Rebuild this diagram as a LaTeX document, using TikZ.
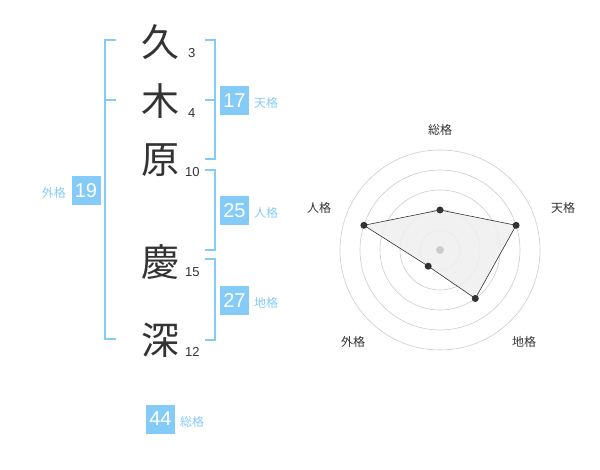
\documentclass[tikz,border=0pt]{standalone}
\usepackage{fontspec}
\setmainfont{Liberation Sans}
\newfontfamily\cjk{Noto Sans CJK JP}
\definecolor{sky}{HTML}{85CBF8}
\definecolor{ink}{HTML}{333333}
\definecolor{ring}{HTML}{CCCCCC}
\definecolor{area}{HTML}{EFEFEF}
\begin{document}
\begin{tikzpicture}[x=1pt,y=-1pt,
  kanji/.style={font=\cjk\fontsize{38}{38}\selectfont, text=ink, inner sep=0},
  strokes/.style={font=\fontsize{13}{13}\selectfont, text=ink, inner sep=0, anchor=west},
  valbox/.style={fill=sky, text=white, minimum width=29, minimum height=29, inner sep=0, font=\fontsize{20}{20}\selectfont},
  vallab/.style={text=sky, font=\cjk\fontsize{12}{12}\selectfont, inner sep=0},
  brk/.style={draw=sky, line width=1.6},
  ringc/.style={draw=ring, line width=0.6},
  axlab/.style={text=ink, font=\cjk\fontsize{12}{12}\selectfont, inner sep=0},
  dot/.style={circle, fill=ink, inner sep=0, minimum size=7}]
\useasboundingbox (0,0) rectangle (600,470);
% characters
\node[kanji] (c1) at (160,42) {久};
\node[kanji] (c2) at (160,101) {木};
\node[kanji] (c3) at (160,160) {原};
\node[kanji] (c4) at (160,262) {慶};
\node[kanji] (c5) at (160,340) {深};
\node[strokes] (n1) at (188,53) {3};
\node[strokes] (n2) at (188,113) {4};
\node[strokes] (n3) at (185,172) {10};
\node[strokes] (n4) at (185,272) {15};
\node[strokes] (n5) at (185,352) {12};
% brackets
\draw[brk] (116,40) -- (105,40) -- (105,339) -- (116,339);
\draw[brk] (105,100) -- (116,100);
\draw[brk] (205,40) -- (215,40) -- (215,159) -- (205,159);
\draw[brk] (205,100) -- (215,100);
\draw[brk] (205,170) -- (215,170) -- (215,250) -- (205,250);
\draw[brk] (205,259) -- (215,259) -- (215,340) -- (205,340);
% value boxes
\node[valbox] (v1) at (234.5,100.5) {17};
\node[vallab, anchor=west] (l1) at (254,103) {天格};
\node[valbox] (v2) at (234.5,210.5) {25};
\node[vallab, anchor=west] (l2) at (254,213) {人格};
\node[valbox] (v3) at (234.5,300.5) {27};
\node[vallab, anchor=west] (l3) at (254,303) {地格};
\node[valbox] (v4) at (86,190.5) {19};
\node[vallab, anchor=east] (l4) at (66,193) {外格};
\node[valbox] (v5) at (160.5,419) {44};
\node[vallab, anchor=west] (l5) at (180,422) {総格};
% radar
\coordinate (o) at (440,250);
\foreach \r in {20,40,60,80,100} \draw[ringc] (o) circle (\r);
\node[axlab] (a1) at (440,130) {総格};
\node[axlab] (a2) at (563,208) {天格};
\node[axlab] (a3) at (524,342) {地格};
\node[axlab] (a4) at (353,342) {外格};
\node[axlab] (a5) at (319,208) {人格};
\coordinate (p1) at (440,210);
\coordinate (p2) at (516.1,225.3);
\coordinate (p3) at (475.3,298.5);
\coordinate (p4) at (428.2,266.2);
\coordinate (p5) at (363.9,225.3);
\filldraw[fill=area, fill opacity=0.85, draw=ink, line width=0.6] (p1) -- (p2) -- (p3) -- (p4) -- (p5) -- cycle;
\fill[ring] (o) circle (4);
\foreach \p in {p1,p2,p3,p4,p5} \node[dot] at (\p) {};
\end{tikzpicture}
\end{document}
